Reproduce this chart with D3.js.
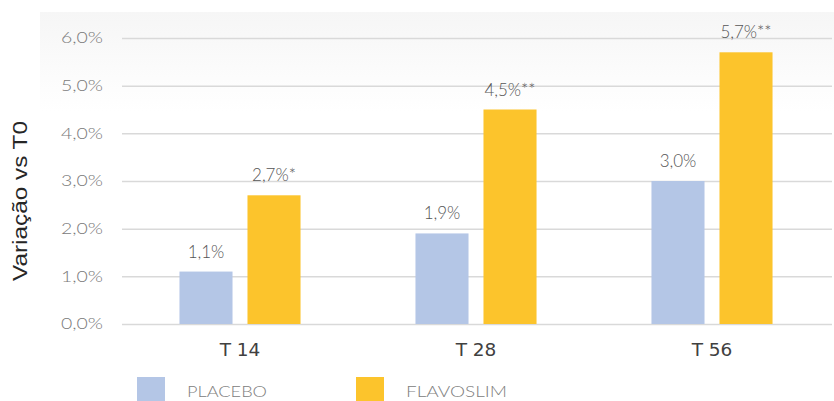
<!DOCTYPE html>
<html><head><meta charset="utf-8">
<script src="https://cdn.jsdelivr.net/npm/d3@7"></script>
<style>body{margin:0;background:#fff}svg{display:block}</style>
</head><body>
<script>
const categories = ["T 14", "T 28", "T 56"];
const seriesNames = ["PLACEBO", "FLAVOSLIM"];
const placeboValues = [1.1, 1.9, 3.0];
const flavoslimValues = [2.7, 4.5, 5.7];
const flavoslimSignif = ["*", "**", "**"];
const placeboSignif = ["", "", ""];
const yTicks = [0, 1, 2, 3, 4, 5, 6];
const yTitle = "Variação vs T0";

const W = 834, H = 401;
const colors = {PLACEBO: "#b4c6e6", FLAVOSLIM: "#fcc42c"};
const svg = d3.select("body").append("svg").attr("width", W).attr("height", H);

// faint top background band
const defs = svg.append("defs");
const grad = defs.append("linearGradient").attr("id","bg").attr("x1",0).attr("y1",0).attr("x2",0).attr("y2",1);
grad.append("stop").attr("offset","0%").attr("stop-color","#f6f6f6");
grad.append("stop").attr("offset","100%").attr("stop-color","#ffffff");
svg.append("rect").attr("x",40).attr("y",12).attr("width",W-40).attr("height",100).attr("fill","url(#bg)");

const y = d3.scaleLinear().domain([0, 6]).range([324, 38]);
const x0 = d3.scaleBand().domain(categories).range([122, 830]).padding(0);
const x1 = d3.scaleBand().domain(seriesNames).range([0, x0.bandwidth()]).paddingInner(0.22).paddingOuter(0.845);

const font = "Lato, 'Open Sans', sans-serif";

// y axis with gridlines
const yAxis = svg.append("g").attr("transform","translate(122,0)")
  .call(d3.axisLeft(y).tickValues(yTicks).tickSize(-(832-122)).tickPadding(19)
    .tickFormat(d => d.toFixed(1).replace(".", ",") + "%"));
yAxis.select(".domain").remove();
yAxis.selectAll(".tick line").attr("stroke","#d9d9d9").attr("stroke-width",1.5);
yAxis.selectAll(".tick text").attr("fill","#7a7a7a").style("font-family",font).style("font-weight","300")
  .style("font-size","15px").attr("textLength",42).attr("lengthAdjust","spacingAndGlyphs");

// bars
const data = categories.map((c, i) => ({
  cat: c,
  vals: [
    {s: "PLACEBO", v: placeboValues[i], sig: placeboSignif[i]},
    {s: "FLAVOSLIM", v: flavoslimValues[i], sig: flavoslimSignif[i]}
  ]
}));
const groups = svg.append("g").selectAll("g").data(data).join("g")
  .attr("transform", d => `translate(${x0(d.cat)},0)`);
groups.selectAll("rect").data(d => d.vals).join("rect")
  .attr("x", d => x1(d.s)).attr("width", x1.bandwidth())
  .attr("y", d => y(d.v)).attr("height", d => y(0) - y(d.v))
  .attr("fill", d => colors[d.s]);
groups.selectAll("text").data(d => d.vals).join("text")
  .attr("x", d => x1(d.s) + x1.bandwidth()/2)
  .attr("y", d => y(d.v) - 14)
  .attr("text-anchor","middle")
  .attr("fill","#555")
  .style("font-family",font).style("font-weight","300").style("font-size","17px")
  .text(d => d.v.toFixed(1).replace(".", ",") + "%" + d.sig);

// x axis labels
const xAxis = svg.append("g").attr("transform","translate(0,324)")
  .call(d3.axisBottom(x0).tickSize(0).tickPadding(19));
xAxis.select(".domain").remove();
xAxis.selectAll(".tick text").attr("fill","#404040").style("font-family","'DejaVu Sans', sans-serif").style("font-weight","400")
  .style("font-size","18.5px");

// y title
svg.append("text").attr("transform","translate(27,201) rotate(-90)")
  .attr("text-anchor","middle").attr("fill","#262626")
  .style("font-family","'Liberation Sans', Arial, sans-serif").style("font-size","20px")
  .attr("textLength",160).attr("lengthAdjust","spacingAndGlyphs")
  .text(yTitle);

// legend
const legX = d3.scaleOrdinal().domain(seriesNames).range([137, 356]);
const legW = {PLACEBO: 80, FLAVOSLIM: 101};
const leg = svg.append("g").selectAll("g").data(seriesNames).join("g")
  .attr("transform", d => `translate(${legX(d)},377)`);
leg.append("rect").attr("width",28).attr("height",28).attr("fill", d => colors[d]);
leg.append("text").attr("x",50).attr("y",20).attr("fill","#808080")
  .style("font-family",font).style("font-weight","300").style("font-size","16px")
  .attr("textLength", d => legW[d]).attr("lengthAdjust","spacingAndGlyphs")
  .text(d => d);
</script>
</body></html>
